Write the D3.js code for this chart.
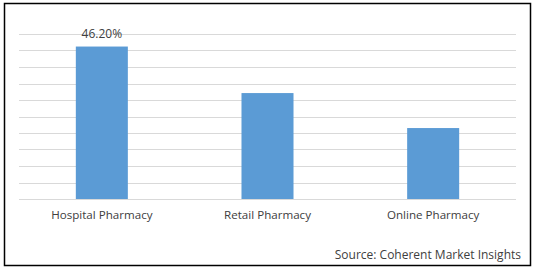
<!DOCTYPE html>
<html>
<head>
<meta charset="utf-8">
<script src="https://cdn.jsdelivr.net/npm/d3@7"></script>
<style>
  body { margin: 0; background: #fff; }
  text { font-family: "Open Sans", "Liberation Sans", Arial, sans-serif; fill: #404040; }
</style>
</head>
<body>
<svg id="chart" width="535" height="270"></svg>
<script>
// market share by distribution channel (%)
const categories = ["Hospital Pharmacy", "Retail Pharmacy", "Online Pharmacy"];
const shares = [46.2, 32.1, 21.5];
const labelled = ["46.20%", null, null];
const yTicks = [0, 5, 10, 15, 20, 25, 30, 35, 40, 45, 50];
const source = "Source: Coherent Market Insights";

const svg = d3.select("#chart");
const margin = { top: 34, right: 19, bottom: 71, left: 19 };
const width = 535 - margin.left - margin.right;
const height = 270 - margin.top - margin.bottom;
const fontStack = "\"Open Sans\", \"Liberation Sans\", Arial, sans-serif";

// outer frame
svg.append("rect")
    .attr("x", 4.5).attr("y", 3.5)
    .attr("width", 526).attr("height", 262)
    .attr("fill", "none")
    .attr("stroke", "#000")
    .attr("stroke-width", 1.5);

const chart = svg.append("g")
    .attr("transform", `translate(${margin.left}, ${margin.top})`);

const x = d3.scaleBand()
    .domain(categories)
    .range([0, width])
    .paddingInner(0.686)
    .paddingOuter(0.343);

const y = d3.scaleLinear()
    .domain([0, 50])
    .range([height, 0]);

chart.append("g")
    .attr("class", "grid")
    .selectAll("line")
    .data(yTicks)
    .join("line")
        .attr("x1", 0)
        .attr("x2", width)
        .attr("y1", d => Math.round(y(d)) + 0.5)
        .attr("y2", d => Math.round(y(d)) + 0.5)
        .attr("stroke", "#d9d9d9")
        .attr("stroke-width", 1);

chart.selectAll("rect.bar")
    .data(shares)
    .join("rect")
        .attr("class", "bar")
        .attr("x", (d, i) => x(categories[i]))
        .attr("y", d => y(d))
        .attr("width", x.bandwidth())
        .attr("height", d => height - y(d))
        .attr("fill", "#5b9bd5");

chart.selectAll("text.value")
    .data(shares)
    .join("text")
        .attr("class", "value")
        .attr("x", (d, i) => x(categories[i]) + x.bandwidth() / 2)
        .attr("y", d => y(d) - 9)
        .attr("text-anchor", "middle")
        .attr("font-size", "12px")
        .text((d, i) => labelled[i] || "");

let xAxis = chart.append("g")
    .attr("transform", `translate(0, ${height})`)
    .call(d3.axisBottom(x).tickSize(0).tickPadding(12));
xAxis.select(".domain").remove();
xAxis.selectAll("text")
    .attr("font-size", "11.6px")
    .style("font-family", fontStack)
    .attr("fill", "#404040");

svg.append("text")
    .attr("x", 521)
    .attr("y", 259)
    .attr("text-anchor", "end")
    .attr("font-size", "12px")
    .text(source);
</script>
</body>
</html>
